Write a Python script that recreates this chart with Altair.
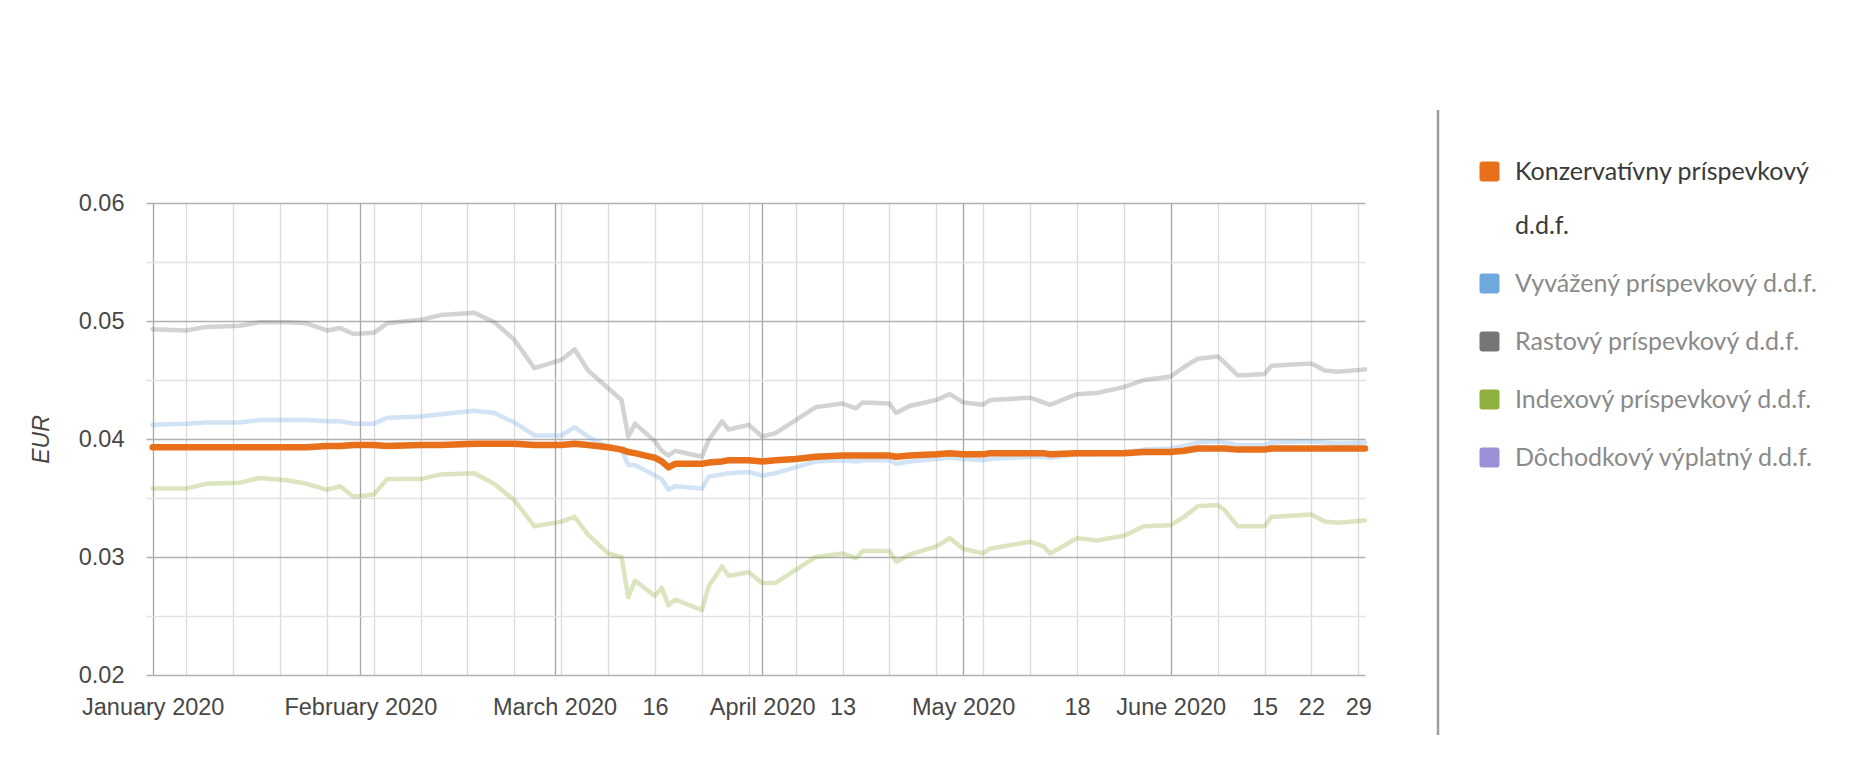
import altair as alt
import pandas as pd

# ---------------- data ----------------
dates = [
    "2020-01-01", "2020-01-06", "2020-01-09", "2020-01-14", "2020-01-17", "2020-01-21", "2020-01-24", "2020-01-27", "2020-01-29", "2020-01-31",
    "2020-02-03", "2020-02-05", "2020-02-10", "2020-02-13", "2020-02-18", "2020-02-21", "2020-02-24", "2020-02-27",
    "2020-03-02", "2020-03-04", "2020-03-06", "2020-03-09", "2020-03-11", "2020-03-12", "2020-03-13", "2020-03-16", "2020-03-17", "2020-03-18", "2020-03-19", "2020-03-23", "2020-03-24", "2020-03-26", "2020-03-27", "2020-03-30",
    "2020-04-01", "2020-04-03", "2020-04-06", "2020-04-09", "2020-04-13", "2020-04-15", "2020-04-16", "2020-04-20", "2020-04-21", "2020-04-23", "2020-04-27", "2020-04-29",
    "2020-05-01", "2020-05-04", "2020-05-05", "2020-05-11", "2020-05-13", "2020-05-14", "2020-05-18", "2020-05-21", "2020-05-25", "2020-05-28",
    "2020-06-01", "2020-06-03", "2020-06-05", "2020-06-08", "2020-06-09", "2020-06-11", "2020-06-12", "2020-06-15", "2020-06-16", "2020-06-22", "2020-06-24", "2020-06-26", "2020-06-30",
]

konzervativny = [
    0.0393, 0.0393, 0.0393, 0.0393, 0.0393, 0.0393, 0.0393, 0.0394, 0.0394, 0.0395,
    0.0395, 0.0394, 0.0395, 0.0395, 0.0396, 0.0396, 0.0396, 0.0395,
    0.0395, 0.0396, 0.0395, 0.0393, 0.0391, 0.0389, 0.0388, 0.0384, 0.0381, 0.0376, 0.0379, 0.0379, 0.0380, 0.0381, 0.0382, 0.0382,
    0.0381, 0.0382, 0.0383, 0.0385, 0.0386, 0.0386, 0.0386, 0.0386, 0.0385, 0.0386, 0.0387, 0.0388,
    0.0387, 0.0387, 0.0388, 0.0388, 0.0388, 0.0387, 0.0388, 0.0388, 0.0388, 0.0389,
    0.0389, 0.0390, 0.0392, 0.0392, 0.0392, 0.0391, 0.0391, 0.0391, 0.0392, 0.0392, 0.0392, 0.0392, 0.0392,
]

vyvazeny = [
    0.0412, 0.0413, 0.0414, 0.0414, 0.0416, 0.0416, 0.0416, 0.0415, 0.0415, 0.0413,
    0.0413, 0.0418, 0.0419, 0.0421, 0.0424, 0.0422, 0.0414, 0.0403,
    0.0403, 0.0410, 0.0402, 0.0393, 0.0391, 0.0378, 0.0378, 0.0369, 0.0366, 0.0357, 0.0360, 0.0358, 0.0368, 0.0370, 0.0371, 0.0372,
    0.0369, 0.0371, 0.0376, 0.0381, 0.0382, 0.0381, 0.0382, 0.0382, 0.0379, 0.0381, 0.0383, 0.0384,
    0.0383, 0.0382, 0.0383, 0.0385, 0.0385, 0.0384, 0.0387, 0.0387, 0.0389, 0.0391,
    0.0392, 0.0394, 0.0397, 0.0398, 0.0397, 0.0395, 0.0395, 0.0395, 0.0397, 0.0398, 0.0397, 0.0396, 0.0397,
]

rastovy = [
    0.0493, 0.0492, 0.0495, 0.0496, 0.0499, 0.0499, 0.0498, 0.0492, 0.0494, 0.0489,
    0.0490, 0.0498, 0.0501, 0.0505, 0.0507, 0.0499, 0.0484, 0.0460,
    0.0467, 0.0476, 0.0458, 0.0443, 0.0433, 0.0402, 0.0413, 0.0398, 0.0390, 0.0386, 0.0390, 0.0385, 0.0399, 0.0415, 0.0408, 0.0412,
    0.0402, 0.0405, 0.0416, 0.0427, 0.0430, 0.0426, 0.0431, 0.0430, 0.0422, 0.0428, 0.0433, 0.0438,
    0.0431, 0.0429, 0.0433, 0.0435, 0.0431, 0.0429, 0.0438, 0.0439, 0.0444, 0.0450,
    0.0453, 0.0461, 0.0468, 0.0470, 0.0465, 0.0454, 0.0454, 0.0455, 0.0462, 0.0464, 0.0458, 0.0457, 0.0459,
]

indexovy = [
    0.0358, 0.0358, 0.0362, 0.0363, 0.0367, 0.0365, 0.0362, 0.0357, 0.0360, 0.0351,
    0.0353, 0.0366, 0.0366, 0.0370, 0.0371, 0.0362, 0.0348, 0.0326,
    0.0330, 0.0334, 0.0319, 0.0303, 0.0300, 0.0266, 0.0280, 0.0267, 0.0274, 0.0259, 0.0264, 0.0255, 0.0275, 0.0292, 0.0284, 0.0287,
    0.0278, 0.0278, 0.0289, 0.0300, 0.0303, 0.0299, 0.0305, 0.0305, 0.0296, 0.0302, 0.0309, 0.0316,
    0.0307, 0.0303, 0.0307, 0.0313, 0.0309, 0.0303, 0.0316, 0.0314, 0.0318, 0.0326,
    0.0327, 0.0334, 0.0343, 0.0344, 0.0340, 0.0326, 0.0326, 0.0326, 0.0334, 0.0336, 0.0330, 0.0329, 0.0331,
]

dochodkovy = [
    0.0393, 0.0393, 0.0393, 0.0393, 0.0393, 0.0393, 0.0393, 0.0394, 0.0394, 0.0394,
    0.0395, 0.0395, 0.0395, 0.0395, 0.0395, 0.0396, 0.0395, 0.0395,
    0.0395, 0.0395, 0.0395, 0.0393, 0.0391, 0.0389, 0.0388, 0.0385, 0.0382, 0.0377, 0.0379, 0.0379, 0.0380, 0.0381, 0.0382, 0.0382,
    0.0381, 0.0382, 0.0383, 0.0385, 0.0386, 0.0386, 0.0386, 0.0386, 0.0385, 0.0386, 0.0387, 0.0387,
    0.0387, 0.0387, 0.0388, 0.0388, 0.0388, 0.0387, 0.0388, 0.0388, 0.0388, 0.0389,
    0.0389, 0.0390, 0.0391, 0.0392, 0.0392, 0.0391, 0.0391, 0.0391, 0.0392, 0.0392, 0.0392, 0.0392, 0.0392,
]

series_names = [
    "Konzervatívny príspevkový d.d.f.",
    "Vyvážený príspevkový d.d.f.",
    "Rastový príspevkový d.d.f.",
    "Indexový príspevkový d.d.f.",
    "Dôchodkový výplatný d.d.f.",
]
series_values = [konzervativny, vyvazeny, rastovy, indexovy, dochodkovy]
series_colors = ["#e8701a", "#6fa8dc", "#767676", "#8fb03c", "#9b8fd6"]
highlighted = series_names[0]
# blank braille cell keeps an empty spacer line between the two wrapped lines
highlighted_lines = ["Konzervatívny príspevkový", "\u2800", "d.d.f."]

month_starts = ["2020-01-01", "2020-02-01", "2020-03-01", "2020-04-01", "2020-05-01", "2020-06-01"]
mondays = [
    "2020-01-06", "2020-01-13", "2020-01-20", "2020-01-27", "2020-02-03", "2020-02-10", "2020-02-17", "2020-02-24",
    "2020-03-02", "2020-03-09", "2020-03-16", "2020-03-23", "2020-03-30", "2020-04-06", "2020-04-13", "2020-04-20",
    "2020-04-27", "2020-05-04", "2020-05-11", "2020-05-18", "2020-05-25", "2020-06-08", "2020-06-15", "2020-06-22",
    "2020-06-29",
]
labeled_days = ["03-16", "04-13", "05-18", "06-15", "06-22", "06-29"]
x_domain = ["2019-12-31", "2020-06-30"]
y_ticks = [0.02, 0.025, 0.03, 0.035, 0.04, 0.045, 0.05, 0.055, 0.06]
y_domain = [0.02, 0.06]

# ---------------- table ----------------
rows = []
for name, vals in zip(series_names, series_values):
    for d, v in zip(dates, vals):
        rows.append({"date": d, "series": name, "value": v})
df = pd.DataFrame(rows)


def ms(s):
    return int(pd.Timestamp(s, tz="UTC").value // 10**6)


x_tick_ms = sorted(ms(s) for s in month_starts + mondays)

AXIS_FONT = "Liberation Sans"
LEGEND_FONT = "Lato"

lbl_list = "[" + ",".join("'" + s + "'" for s in labeled_days) + "]"
x_label_expr = (
    "utcdate(datum.value) == 1 ? utcFormat(datum.value, '%B %Y') : "
    "(indexof(" + lbl_list + ", utcFormat(datum.value, '%m-%d')) >= 0 ? '' + utcdate(datum.value) : '')"
)

x_enc = alt.X(
    "date:T",
    scale=alt.Scale(type="utc", domain=[ms(s) for s in x_domain], nice=False),
    axis=alt.Axis(
        values=x_tick_ms,
        labelExpr=x_label_expr,
        grid=True,
        gridColor={"condition": {"test": "utcdate(datum.value) == 1", "value": "#a6a6a6"}, "value": "#dadada"},
        gridWidth=1.3,
        domain=False,
        ticks=False,
        title=None,
        labelFont=AXIS_FONT,
        labelFontSize=23.5,
        labelColor="#474747",
        labelPadding=20,
        labelOverlap=False,
        labelFlush=False,
        labelBound=False,
    ),
)

y_enc = alt.Y(
    "value:Q",
    scale=alt.Scale(domain=y_domain, nice=False, zero=False),
    axis=alt.Axis(
        values=y_ticks,
        labelExpr="round(datum.value * 200) % 2 == 0 ? format(datum.value, '.2f') : ''",
        grid=True,
        gridColor={"condition": {"test": "round(datum.value * 200) % 2 == 0", "value": "#b0b0b0"}, "value": "#e2e2e2"},
        gridWidth=1.3,
        domain=False,
        ticks=False,
        title="EUR",
        titleFont=AXIS_FONT,
        titleFontSize=23,
        titleFontStyle="italic",
        titleFontWeight="normal",
        titleColor="#474747",
        titlePadding=25,
        labelFont=AXIS_FONT,
        labelFontSize=23.5,
        labelColor="#474747",
        labelPadding=22,
    ),
)

color_scale = alt.Scale(domain=series_names, range=series_colors)

rounded_square = (
    "M -0.7 -1 L 0.7 -1 Q 1 -1 1 -0.7 L 1 0.7 Q 1 1 0.7 1 L -0.7 1 "
    "Q -1 1 -1 0.7 L -1 -0.7 Q -1 -1 -0.7 -1 Z"
)

base = alt.Chart(df)

faded = base.transform_filter(alt.datum.series != highlighted).mark_line(
    strokeWidth=4.5, opacity=0.32, strokeJoin="round", strokeCap="round"
).encode(x=x_enc, y=y_enc, color=alt.Color("series:N", scale=color_scale))

main = base.transform_filter(alt.datum.series == highlighted).mark_line(
    strokeWidth=6.5, strokeJoin="round", strokeCap="round"
).encode(x=x_enc, y=y_enc, color=alt.Color("series:N", scale=color_scale))

hl_test = "datum.value == '" + highlighted + "'"
hl_array = "[" + ",".join("'" + s + "'" for s in highlighted_lines) + "]"


def legend_layer(expr_color):
    kw = dict(
        title=None,
        orient="none",
        legendX=1331,
        legendY=-44,
        symbolType=rounded_square,
        symbolSize=400,
        symbolOpacity=1,
        symbolStrokeWidth=0,
        labelFont=LEGEND_FONT,
        labelFontSize=25,
        labelOffset=13,
        labelLimit=600,
        rowPadding=32,
        padding=0,
        labelExpr=hl_test + " ? " + hl_array + " : datum.label",
    )
    if expr_color:
        kw["labelColor"] = {"expr": hl_test + " ? '#3a3a3a' : '#8a8a8a'"}
    else:
        kw["labelColor"] = "#8a8a8a"
    return base.mark_point(filled=True, opacity=0, shape=rounded_square, size=10).encode(
        x=x_enc, y=y_enc, color=alt.Color("series:N", scale=color_scale, legend=alt.Legend(**kw))
    )


separator = alt.Chart(pd.DataFrame({"sep": [0]})).mark_rule(color="#9c9c9c", strokeWidth=2.5).encode(
    x=alt.value(1292), y=alt.value(-93), y2=alt.value(532)
)


def build(expr_color):
    return (
        alt.layer(legend_layer(expr_color), faded, main, separator)
        .properties(
            width=1219,
            height=472,
            padding={"left": 138, "top": 195, "right": 476, "bottom": 60},
            autosize=alt.AutoSizeParams(type="none"),
            background="white",
        )
        .configure_view(stroke=None)
        .configure_legend(symbolOpacity=1, symbolStrokeWidth=0)
    )


try:
    chart = build(True)
    chart.to_dict()
except Exception:
    chart = build(False)

chart.save("out.html", embed_options={"renderer": "svg", "actions": False})
